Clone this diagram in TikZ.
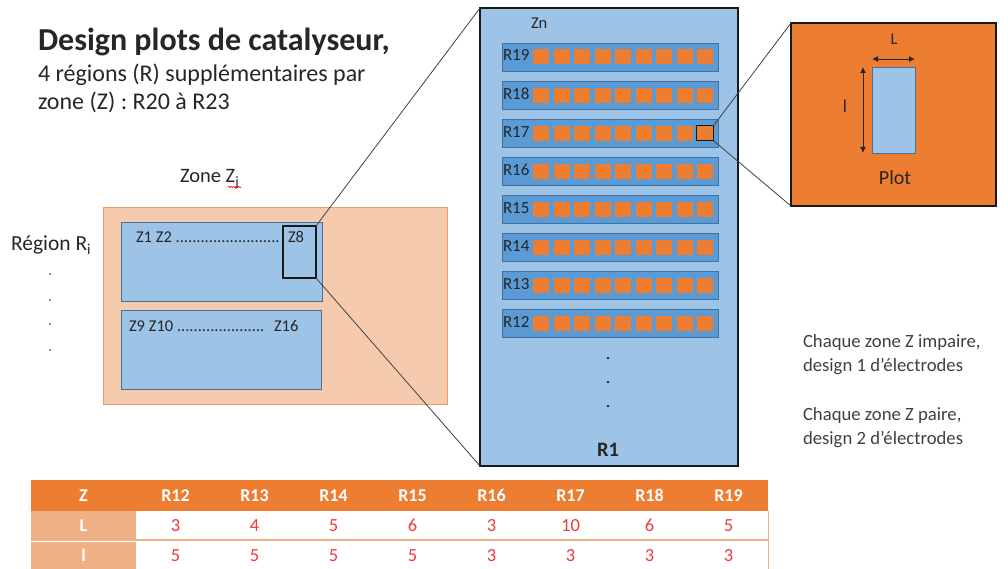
\documentclass[tikz,border=0pt]{standalone}
\usepackage{fontspec}
\setmainfont{Carlito}
\usetikzlibrary{arrows.meta,decorations.pathmorphing}
\definecolor{panelblue}{HTML}{9DC3E6}
\definecolor{rowblue}{HTML}{5B9BD5}
\definecolor{rowborder}{HTML}{41719C}
\definecolor{acorange}{HTML}{ED7D31}
\definecolor{zonefill}{HTML}{F6CBAD}
\definecolor{zoneborder}{HTML}{EC9A63}
\definecolor{tlight}{HTML}{F0B085}
\definecolor{tred}{HTML}{EE3B3B}
\definecolor{txtdark}{HTML}{262626}
\definecolor{txtgray}{HTML}{404040}
\definecolor{linegray}{HTML}{404040}
\begin{document}
\begin{tikzpicture}[x=1pt,y=-1pt,
  box/.style={inner sep=0pt, outer sep=0pt, anchor=north west},
  lbl/.style={inner sep=0pt, outer sep=0pt, text=txtdark},
  fs/.style={font=\fontsize{#1}{#1}\selectfont},
  conn/.style={draw=linegray, line width=0.8pt},
  dimarrow/.style={draw=black!85, line width=0.9pt, {Latex[length=6pt,width=6pt]}-{Latex[length=6pt,width=6pt]}},
  sqbox/.style={inner sep=0pt, outer sep=0pt, fill=acorange, minimum width=16pt, minimum height=15pt},
  bluebox/.style={box, fill=panelblue, draw=rowborder, line width=0.8pt},
  cell/.style={box, minimum height=#1, fs=18.5}
]
\useasboundingbox (0,0) rectangle (1008,569);

% ---------- title ----------
\node[lbl, anchor=base west, font=\bfseries\fontsize{32}{32}\selectfont] (title) at (38,51) {Design plots de catalyseur,};
\node[lbl, fs=24, anchor=base west] (sub1) at (38,82) {4 régions (R) supplémentaires par};
\node[lbl, fs=24, anchor=base west] (sub2) at (38,110) {zone (Z) : R20 à R23};

% ---------- left zone ----------
\node[lbl, fs=20.5, anchor=base west] (zonelab) at (180,183) {Zone Z\textsubscript{j}};
\draw[red, line width=0.6pt, decorate, decoration={snake, amplitude=0.8pt, segment length=2.5pt}] (228,187) -- (241,187);
\node[lbl, fs=21.5, anchor=base west] (reglab) at (11,251) {Région R\textsubscript{i}};
\foreach \yy [count=\n] in {274,300,324,350} \fill[txtdark] (50,\yy) circle (0.9pt);

\node[box, fill=zonefill, draw=zoneborder, line width=0.8pt, minimum width=344pt, minimum height=197pt] (zone) at (103,207) {};
\node[bluebox, minimum width=201pt, minimum height=79pt] (za) at (121,222) {};
\node[bluebox, minimum width=200pt, minimum height=79pt] (zb) at (121,310) {};
\node[lbl, fs=16.5, anchor=base west] (z1) at (136,243) {Z1 Z2 .........................};
\node[lbl, fs=16.5, anchor=base west] (z8lab) at (288,243) {Z8};
\node[lbl, fs=16.5, anchor=base west] (z9) at (129,331) {Z9 Z10 .....................};
\node[lbl, fs=16.5, anchor=base west] (z16lab) at (274,331) {Z16};
\node[box, draw=black!90, line width=1.6pt, minimum width=33pt, minimum height=52pt] (z8) at (283,226) {};

% ---------- central panel ----------
\node[box, draw=black!90, line width=2.6pt, fill=panelblue, minimum width=258pt, minimum height=458pt] (panel) at (480,8) {};
\node[lbl, fs=16.5, anchor=base west] (zn) at (531,29) {Zn};
\foreach \lab [count=\k from 0] in {R19,R18,R17,R16,R15,R14,R13,R12} {
  \pgfmathsetmacro{\ry}{43+38.1*\k}
  \node[box, fill=rowblue, draw=rowborder, line width=0.8pt, minimum width=216pt, minimum height=28pt] (row\k) at (502,\ry) {};
  \node[lbl, fs=17, anchor=base west] (rl\k) at (503,\ry+18) {\lab};
  \foreach \j in {0,...,8} {
    \node[sqbox] (sq\k-\j) at ({541+20.5*\j},\ry+14) {};
  }
}
\node[inner sep=0pt, outer sep=0pt, draw=black!90, line width=1.5pt, minimum width=17pt, minimum height=15pt] (hl) at (sq2-8) {};
\foreach \yy [count=\n] in {358,382,406} \fill[txtdark] (608,\yy) circle (1.4pt);
\node[lbl, anchor=base, font=\bfseries\fontsize{20.5}{20.5}\selectfont] (r1) at (608,456) {R1};

% ---------- plot box ----------
\node[box, draw=black!90, line width=2.6pt, fill=acorange, minimum width=205pt, minimum height=183pt] (plotbox) at (791,23) {};
\node[box, fill=panelblue, draw=rowborder, line width=0.8pt, minimum width=43pt, minimum height=86pt] (plotrect) at (872,67) {};
\draw[dimarrow] ([yshift=8pt]plotrect.north west) -- ([yshift=8pt]plotrect.north east);
\draw[dimarrow] ([xshift=-9pt]plotrect.north west) -- ([xshift=-9pt]plotrect.south west);
\node[lbl, fs=16.5, anchor=base] (Llab) at (894,45) {L};
\node[lbl, fs=18, anchor=base] (llab) at (845,113) {l};
\node[lbl, fs=20, anchor=base] (plotlab) at (895,185) {Plot};

% ---------- connectors ----------
\draw[conn] (z8.north east) -- (panel.north west);
\draw[conn] (z8.south east) -- (panel.south west);
\draw[conn] (hl.north east) -- (plotbox.north west);
\draw[conn] (hl.south east) -- (plotbox.south west);

% ---------- right texts ----------
\node[lbl, text=txtgray, fs=18.7, anchor=base west] (t1) at (803,347) {Chaque zone Z impaire,};
\node[lbl, text=txtgray, fs=18.7, anchor=base west] (t2) at (803,371) {design 1 d’électrodes};
\node[lbl, text=txtgray, fs=18.7, anchor=base west] (t3) at (803,420) {Chaque zone Z paire,};
\node[lbl, text=txtgray, fs=18.7, anchor=base west] (t4) at (803,444) {design 2 d’électrodes};

% ---------- table ----------
\foreach \t [count=\c from 0] in {Z,R12,R13,R14,R15,R16,R17,R18,R19} {
  \pgfmathsetmacro{\cx}{\c==0 ? 31 : 136+79*(\c-1)}
  \pgfmathsetmacro{\cw}{\c==0 ? 105 : 79}
  \node[cell=31pt, fill=acorange, text=white, minimum width=\cw pt, font=\bfseries\fontsize{18}{18}\selectfont] (h\c) at (\cx,480) {\t};
}
\node[cell=29pt, fill=tlight, text=white, minimum width=105pt, font=\bfseries\fontsize{18}{18}\selectfont] (l0) at (31,511) {L};
\node[cell=27pt, fill=tlight, text=white, minimum width=105pt, font=\bfseries\fontsize{18}{18}\selectfont] (i0) at (31,542) {l};
\foreach \v [count=\c] in {3,4,5,6,3,10,6,5} {
  \node[cell=29pt, fill=white, text=tred, minimum width=79pt] (l\c) at ({136+79*(\c-1)},511) {\v};
}
\foreach \v [count=\c] in {5,5,5,5,3,3,3,3} {
  \node[cell=27pt, fill=white, text=tred, minimum width=79pt] (i\c) at ({136+79*(\c-1)},542) {\v};
}
\draw[tlight, line width=2pt] (l0.south west) -- (l8.south east);
\draw[tlight, line width=1pt] (l8.north east) -- (i8.south east);
\end{tikzpicture}
\end{document}
